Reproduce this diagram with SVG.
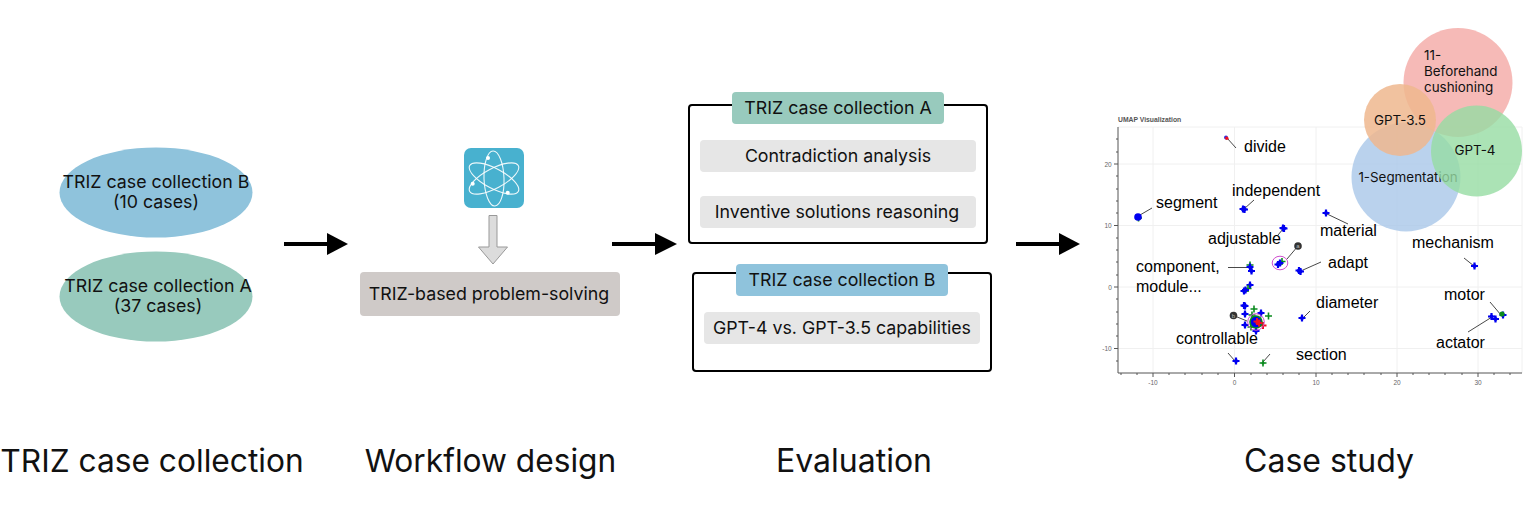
<svg xmlns="http://www.w3.org/2000/svg" width="1540" height="528" viewBox="0 0 1540 528">
<defs>
<g id="pb"><path d="M-3.5 0H3.500M0 -3.500V3.500" stroke="#0000f0" stroke-width="2.200"/><circle r="2" fill="#0000f0"/></g>
<g id="pg"><path d="M-3.500 0H3.500M0 -3.500V3.500" stroke="#0a8a1e" stroke-width="1.600"/></g>
<g id="pr"><path d="M-3.500 0H3.500M0 -3.500V3.500" stroke="#f01020" stroke-width="2"/></g>
</defs>
<style>
text{font-family:Inter,"Noto Sans","Liberation Sans",sans-serif;fill:#111;text-anchor:middle}
.t{font-size:17.8px}
.h{font-size:31.7px}
.h2{font-size:32px}
text.l{font-family:"Liberation Sans",Arial,sans-serif;font-size:16px;text-anchor:start;fill:#000}
text.ax{font-family:"Liberation Sans",Arial,sans-serif;font-size:6.500px;fill:#666}
text.mark{font-family:"Liberation Sans",Arial,sans-serif;font-size:6px;fill:#bbb}
text.title{font-family:"Liberation Sans",Arial,sans-serif;font-size:6.800px;font-weight:700;fill:#555;text-anchor:start}
.c{font-size:13.400px}
text.s{text-anchor:start}
.box{fill:none;stroke:#000;stroke-width:2}
.g{fill:#e6e6e6}
.grid{stroke:#f0f0f0;stroke-width:1;fill:none}
.axl{stroke:#555;stroke-width:1;fill:none}
.lead{stroke:#333;stroke-width:.9;fill:none}
.arr{stroke:#000;stroke-width:4;fill:none}
.ring{fill:none;stroke:#d050d0;stroke-width:1}
</style>

<g id="heading-collection"><text class="h" x="152" y="472">TRIZ case collection</text></g>
<g id="heading-workflow"><text class="h" x="490.500" y="472">Workflow design</text></g>
<g id="heading-evaluation"><text class="h2" x="854" y="472">Evaluation</text></g>
<g id="heading-case"><text class="h2" x="1329" y="472">Case study</text></g>

<g id="collection-b"><ellipse cx="156" cy="192.500" rx="96.500" ry="45" fill="#8fc3dc"/><text class="t" x="156" y="188">TRIZ case collection B</text><text class="t" x="156" y="208">(10 cases)</text></g>
<g id="collection-a"><ellipse cx="156" cy="296.500" rx="96.500" ry="45" fill="#98cabd"/><text class="t" x="158" y="292">TRIZ case collection A</text><text class="t" x="158" y="312">(37 cases)</text></g>

<g id="connectors">
<path class="arr" d="M284 244H330"/><path d="M327 233L348 244L327 255Z"/>
<path class="arr" d="M612 244H658"/><path d="M655 233L677 244L655 255Z"/>
<path class="arr" d="M1016 244H1062"/><path d="M1059 233L1080 244L1059 255Z"/>
<path d="M489 215.500H497V247H507.500L493 264L478.500 247H489Z" fill="#dcdcdc" stroke="#999" stroke-width="1"/>
</g>

<g id="atom-icon">
<rect x="464" y="148" width="60" height="60" rx="7" fill="#48b1cf"/>
<g fill="none" stroke="#fff" stroke-width="1.100" stroke-opacity=".9">
<ellipse cx="494" cy="178.500" rx="27.500" ry="10" transform="rotate(28 494 178.500)"/>
<ellipse cx="494" cy="178.500" rx="27.500" ry="10" transform="rotate(88 494 178.500)"/>
<ellipse cx="494" cy="178.500" rx="27.500" ry="10" transform="rotate(-28 494 178.500)"/>
</g>
<circle cx="488" cy="158" r="2" fill="#fff"/><circle cx="472.700" cy="183.700" r="2" fill="#fff"/><circle cx="507.700" cy="192.700" r="2" fill="#fff"/>
</g>
<g id="problem-solving"><rect x="360" y="272" width="260" height="44" rx="4" fill="#cfcac8"/><text class="t" x="489" y="299.500">TRIZ-based problem-solving</text></g>

<g id="eval-a">
<rect class="box" x="689" y="105" width="298" height="138" rx="3"/>
<rect x="732" y="92" width="212" height="32" rx="4" fill="#98cabd"/><text class="t" x="838" y="114">TRIZ case collection A</text>
<rect class="g" x="700" y="140" width="276" height="32" rx="4"/><text class="t" x="838" y="161.500">Contradiction analysis</text>
<rect class="g" x="700" y="196" width="276" height="32" rx="4"/><text class="t" x="837" y="217.500">Inventive solutions reasoning</text>
</g>
<g id="eval-b">
<rect class="box" x="693" y="273" width="298" height="98" rx="3"/>
<rect x="736" y="264" width="212" height="32" rx="4" fill="#8fc3dc"/><text class="t" x="842" y="286">TRIZ case collection B</text>
<rect class="g" x="704" y="312" width="276" height="32" rx="4"/><text class="t" x="842" y="333.500">GPT-4 vs. GPT-3.5 capabilities</text>
</g>

<g id="umap-plot">
<text class="title" x="1118" y="122">UMAP Visualization</text>
<path class="grid" d="M1118 127H1522V373M1153 127V373M1234.500 127V373M1316 127V373M1397 127V373M1478 127V373M1118 164H1522M1118 225.500H1522M1118 287H1522M1118 348.500H1522"/>
<path class="axl" d="M1118 127V373H1522"/>
<path class="axl" d="M1114 164H1118M1114 225.500H1118M1114 287H1118M1114 348.500H1118M1153 373V377M1234.500 373V377M1316 373V377M1397 373V377M1478 373V377M1116 139H1118M1116 152H1118M1116 176H1118M1116 189H1118M1116 201H1118M1116 213H1118M1116 238H1118M1116 250H1118M1116 262H1118M1116 275H1118M1116 299H1118M1116 312H1118M1116 324H1118M1116 336H1118M1116 361H1118M1121 373V375M1137 373V375M1169 373V375M1185 373V375M1202 373V375M1218 373V375M1251 373V375M1267 373V375M1283 373V375M1299 373V375M1332 373V375M1348 373V375M1364 373V375M1381 373V375M1413 373V375M1429 373V375M1445 373V375M1462 373V375M1494 373V375M1510 373V375"/>
<text class="ax" x="1108" y="166.500">20</text><text class="ax" x="1108" y="228">10</text><text class="ax" x="1110" y="289.500">0</text><text class="ax" x="1107" y="351">-10</text><text class="ax" x="1153" y="385">-10</text><text class="ax" x="1234.500" y="385">0</text><text class="ax" x="1316" y="385">10</text><text class="ax" x="1397" y="385">20</text><text class="ax" x="1478" y="385">30</text>

<path class="lead" d="M1227 138L1236 148M1140 215L1152 208M1244 209L1254 200M1325 213L1348 224M1278 235L1283 229M1298 246L1287 259M1228 267.500H1249M1303 270L1321 262M1310 311L1303 318M1228 353L1235 361M1270 354L1263 362M1464 258L1474 266M1490 302L1501 315M1468 332L1492 317M1233.500 315.500L1247 321"/>

<g id="umap-points">
<use href="#pg" x="1138.500" y="218"/><circle cx="1138" cy="217" r="3.800" fill="#0000f0"/>
<circle cx="1226" cy="137.500" r="2" fill="#3030e0"/><circle cx="1226.800" cy="138.300" r="1.700" fill="#f01020"/>
<use href="#pb" x="1243" y="209"/><use href="#pb" x="1244.500" y="209.500"/><use href="#pb" x="1326" y="213"/><use href="#pb" x="1283" y="228"/><use href="#pb" x="1284" y="228.500"/>
<use href="#pg" x="1250" y="265"/><use href="#pb" x="1250" y="267"/><use href="#pb" x="1251.500" y="271"/>
<use href="#pb" x="1244" y="291"/><use href="#pb" x="1250" y="285"/><use href="#pg" x="1248" y="288.500"/><use href="#pb" x="1245.500" y="290"/>
<use href="#pg" x="1282" y="261.500"/><use href="#pb" x="1278" y="264.500"/><use href="#pb" x="1280" y="263"/>
<use href="#pb" x="1299" y="270.500"/><use href="#pb" x="1300.500" y="271.500"/><use href="#pb" x="1302" y="318"/><use href="#pb" x="1244" y="305.500"/><use href="#pb" x="1245" y="306"/>
<use href="#pg" x="1254" y="309"/><use href="#pb" x="1261" y="313"/><use href="#pg" x="1268.500" y="316"/><use href="#pg" x="1252" y="315"/><use href="#pb" x="1245" y="314"/><use href="#pb" x="1245" y="325"/><use href="#pg" x="1251" y="327"/><use href="#pb" x="1256" y="331"/><use href="#pr" x="1263" y="325.500"/>
<circle cx="1256" cy="322" r="6.800" fill="#0a8a1e"/><circle cx="1256" cy="322" r="5.200" fill="#0000f0"/><use href="#pr" x="1257" y="321.500"/><use href="#pr" x="1259" y="323"/>
<ellipse class="ring" cx="1280" cy="263" rx="7.800" ry="6.800"/><circle class="ring" cx="1256" cy="322" r="8.300"/>
<use href="#pb" x="1236" y="361"/><use href="#pg" x="1263" y="363"/><circle cx="1263" cy="363" r="1.500" fill="#0a8a1e"/>
<use href="#pb" x="1474.500" y="266"/><use href="#pb" x="1491.500" y="316.500"/><use href="#pb" x="1495.500" y="319"/><use href="#pb" x="1503" y="315"/><circle cx="1502" cy="314" r="2.600" fill="#0a8a1e"/>
<circle cx="1298" cy="246" r="3.800" fill="#333"/><circle cx="1233.500" cy="315.500" r="3.800" fill="#333"/>
<text class="mark" x="1298" y="248">a</text><text class="mark" x="1233.500" y="317.500">b</text>
</g>
<g id="umap-labels">
<text class="l" x="1244" y="152">divide</text><text class="l" x="1156" y="208">segment</text><text class="l" x="1232" y="196">independent</text>
<text class="l" x="1320" y="236">material</text><text class="l" x="1208" y="244">adjustable</text><text class="l" x="1136" y="272">component,</text><text class="l" x="1136" y="292">module...</text>
<text class="l" x="1328" y="268">adapt</text><text class="l" x="1412" y="248">mechanism</text><text class="l" x="1316" y="308">diameter</text><text class="l" x="1444" y="300">motor</text>
<text class="l" x="1176" y="344">controllable</text><text class="l" x="1296" y="360">section</text><text class="l" x="1436" y="348">actator</text>
</g>
</g>

<g id="bubble-segmentation"><circle cx="1406" cy="177" r="54.500" fill="#a9c7e8" fill-opacity=".8"/><text class="c" x="1408" y="181.500">1-Segmentation</text></g>
<g id="bubble-beforehand"><circle cx="1458" cy="82.500" r="54.500" fill="#f4aeaa" fill-opacity=".85"/><text class="c s" x="1424" y="60">11-</text><text class="c s" x="1424" y="76">Beforehand</text><text class="c s" x="1424" y="92">cushioning</text></g>
<g id="bubble-gpt35"><circle cx="1400" cy="120" r="36" fill="#eeb78e" fill-opacity=".85"/><text class="c" x="1400" y="125">GPT-3.5</text></g>
<g id="bubble-gpt4"><circle cx="1476.500" cy="151" r="45.500" fill="#96dca2" fill-opacity=".8"/><text class="c" x="1475" y="154.500">GPT-4</text></g>
</svg>
